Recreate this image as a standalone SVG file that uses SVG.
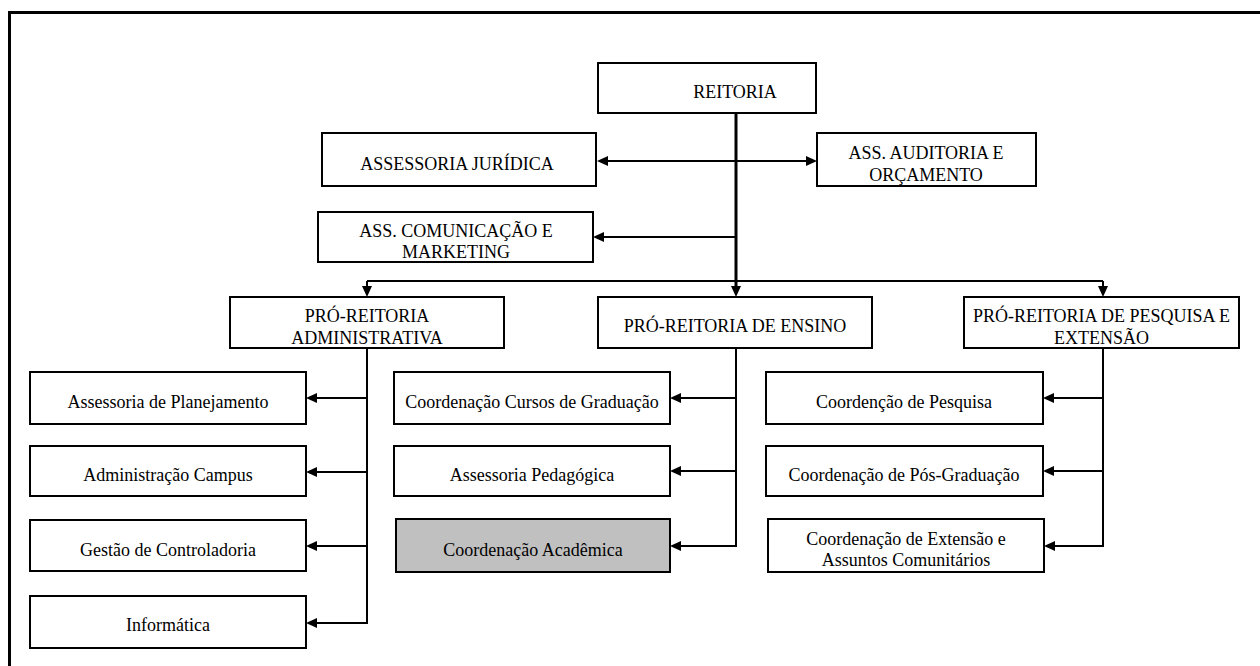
<svg xmlns="http://www.w3.org/2000/svg" width="1260" height="666" viewBox="0 0 1260 666">
  <style>
    .box { fill: #ffffff; stroke: #000000; stroke-width: 2; }
    .box.shaded { fill: #c0c0c0; }
    .label { font-family: "Liberation Serif", "Times New Roman", serif; font-size: 18px; fill: #000000; text-anchor: middle; }
    .link { fill: none; stroke: #000000; stroke-width: 2; }
    .trunk { stroke-width: 3; }
    .arrow { marker-end: url(#head); }
  </style>
  <defs>
    <marker id="head" viewBox="0 0 11 10" refX="0" refY="5" markerWidth="11" markerHeight="10" markerUnits="userSpaceOnUse" orient="auto-start-reverse">
      <path d="M0,0 L11,5 L0,10 Z" fill="#000000"/>
    </marker>
  </defs>

  <rect width="1260" height="666" fill="#ffffff"/>
  <!-- page frame -->
  <path d="M9.5,666 V12.5 H1260" fill="none" stroke="#000000" stroke-width="3"/>

  <!-- connectors -->
  <g id="connectors">
    <line class="link trunk arrow" x1="736" y1="113" x2="736" y2="286"/>
    <line class="link" x1="608" y1="161" x2="806" y2="161" marker-start="url(#head)" marker-end="url(#head)"/>
    <line class="link arrow" x1="736" y1="237" x2="604" y2="237"/>
    <line class="link" x1="367" y1="281" x2="1103" y2="281"/>
    <line class="link arrow" x1="367" y1="281" x2="367" y2="286"/>
    <line class="link arrow" x1="1103" y1="281" x2="1103" y2="286"/>

    <!-- administrative branch -->
    <path class="link" d="M367,348 V623"/>
    <line class="link arrow" x1="367" y1="398" x2="317" y2="398"/>
    <line class="link arrow" x1="367" y1="472" x2="317" y2="472"/>
    <line class="link arrow" x1="367" y1="546" x2="317" y2="546"/>
    <line class="link arrow" x1="368" y1="623" x2="317" y2="623"/>

    <!-- teaching branch -->
    <path class="link" d="M736,348 V546"/>
    <line class="link arrow" x1="736" y1="398" x2="681" y2="398"/>
    <line class="link arrow" x1="736" y1="471" x2="681" y2="471"/>
    <line class="link arrow" x1="737" y1="546" x2="681" y2="546"/>

    <!-- research branch -->
    <path class="link" d="M1103,348 V546"/>
    <line class="link arrow" x1="1103" y1="398" x2="1054" y2="398"/>
    <line class="link arrow" x1="1103" y1="471" x2="1054" y2="471"/>
    <line class="link arrow" x1="1104" y1="546" x2="1055" y2="546"/>
  </g>

  <g id="reitoria">
    <rect class="box" x="598" y="63" width="218" height="50"/>
    <text class="label" x="735" y="98">REITORIA</text>
  </g>
  <g id="assessoria-juridica">
    <rect class="box" x="322" y="133" width="274" height="53"/>
    <text class="label" x="457" y="170">ASSESSORIA JURÍDICA</text>
  </g>
  <g id="ass-auditoria">
    <rect class="box" x="817" y="133" width="219" height="53"/>
    <text class="label" x="926" y="159">ASS. AUDITORIA E</text>
    <text class="label" x="926" y="180.5">ORÇAMENTO</text>
  </g>
  <g id="ass-comunicacao">
    <rect class="box" x="318" y="212" width="275" height="50"/>
    <text class="label" x="456" y="237">ASS. COMUNICAÇÃO E</text>
    <text class="label" x="456" y="258">MARKETING</text>
  </g>

  <g id="pro-reitoria-administrativa">
    <rect class="box" x="230" y="297" width="274" height="51"/>
    <text class="label" x="367" y="322">PRÓ-REITORIA</text>
    <text class="label" x="367" y="343.5">ADMINISTRATIVA</text>
  </g>
  <g id="pro-reitoria-ensino">
    <rect class="box" x="598" y="297" width="274" height="51"/>
    <text class="label" x="735" y="332">PRÓ-REITORIA DE ENSINO</text>
  </g>
  <g id="pro-reitoria-pesquisa">
    <rect class="box" x="964" y="297" width="275" height="51"/>
    <text class="label" x="1101.5" y="322">PRÓ-REITORIA DE PESQUISA E</text>
    <text class="label" x="1101.5" y="343.5">EXTENSÃO</text>
  </g>

  <g id="assessoria-planejamento">
    <rect class="box" x="30" y="372" width="276" height="52"/>
    <text class="label" x="168" y="408">Assessoria de Planejamento</text>
  </g>
  <g id="administracao-campus">
    <rect class="box" x="30" y="446" width="276" height="50"/>
    <text class="label" x="168" y="481">Administração Campus</text>
  </g>
  <g id="gestao-controladoria">
    <rect class="box" x="30" y="520" width="276" height="51"/>
    <text class="label" x="168" y="555.5">Gestão de Controladoria</text>
  </g>
  <g id="informatica">
    <rect class="box" x="30" y="596" width="276" height="52"/>
    <text class="label" x="168" y="631">Informática</text>
  </g>

  <g id="coord-cursos-graduacao">
    <rect class="box" x="394" y="372" width="276" height="52"/>
    <text class="label" x="532" y="408">Coordenação Cursos de Graduação</text>
  </g>
  <g id="assessoria-pedagogica">
    <rect class="box" x="394" y="446" width="276" height="50"/>
    <text class="label" x="532" y="480.5">Assessoria Pedagógica</text>
  </g>
  <g id="coord-academica">
    <rect class="box shaded" x="396" y="519" width="274" height="53"/>
    <text class="label" x="533" y="556">Coordenação Acadêmica</text>
  </g>

  <g id="coord-pesquisa">
    <rect class="box" x="766" y="372" width="277" height="52"/>
    <text class="label" x="904" y="408">Coordenção de Pesquisa</text>
  </g>
  <g id="coord-pos-graduacao">
    <rect class="box" x="766" y="446" width="277" height="50"/>
    <text class="label" x="904" y="481">Coordenação de Pós-Graduação</text>
  </g>
  <g id="coord-extensao">
    <rect class="box" x="768" y="519" width="276" height="53"/>
    <text class="label" x="906" y="544.5">Coordenação de Extensão e</text>
    <text class="label" x="906" y="566">Assuntos Comunitários</text>
  </g>
</svg>
